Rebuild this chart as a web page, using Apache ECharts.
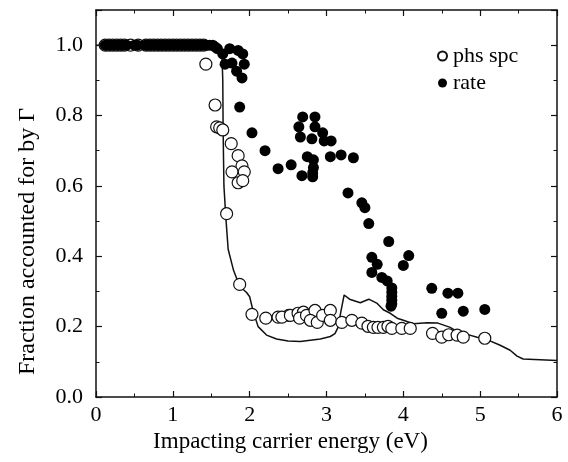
<!DOCTYPE html>
<html>
<head>
<meta charset="utf-8">
<script src="https://cdn.jsdelivr.net/npm/echarts@6/dist/echarts.min.js"></script>
<style>html,body{margin:0;padding:0;background:#fff}#c{width:568px;height:462px}</style>
</head>
<body>
<div id="c"></div>
<script>
// x tick labels
var xTicks = [0, 1, 2, 3, 4, 5, 6];
var yTicks = [0.0, 0.2, 0.4, 0.6, 0.8, 1.0];

// phs spc (open circles): [energy, fraction]
var phsSpc = [
  [0.12,1.0],[0.17,1.0],[0.22,1.0],[0.27,1.0],[0.32,1.0],[0.37,1.0],[0.45,1.0],[0.55,1.0],
  [0.65,1.0],[0.70,1.0],[0.75,1.0],[0.80,1.0],[0.85,1.0],[0.90,1.0],[0.95,1.0],[1.00,1.0],
  [1.05,1.0],[1.10,1.0],[1.15,1.0],[1.20,1.0],[1.25,1.0],[1.30,1.0],[1.35,1.0],[1.40,1.0],
  [1.43,0.946],[1.55,0.83],[1.57,0.768],[1.61,0.765],[1.65,0.759],[1.76,0.72],[1.85,0.686],
  [1.90,0.657],[1.77,0.640],[1.93,0.640],[1.85,0.609],[1.91,0.615],[1.70,0.521],[1.87,0.32],
  [2.03,0.235],[2.21,0.224],[2.37,0.227],[2.51,0.232],[2.42,0.227],[2.53,0.232],[2.63,0.238],
  [2.70,0.241],[2.65,0.224],[2.74,0.232],[2.85,0.246],[2.79,0.218],[2.88,0.212],[2.95,0.232],
  [3.05,0.246],[3.05,0.218],[3.20,0.212],[3.33,0.218],[3.46,0.210],[3.54,0.201],[3.61,0.198],
  [3.67,0.198],[3.74,0.198],[3.80,0.201],[3.85,0.195],[3.98,0.195],[4.09,0.195],[4.38,0.181],
  [4.50,0.170],[4.59,0.177],[4.70,0.176],[4.78,0.170],[5.06,0.167]
];

// rate (filled circles): [energy, fraction]
var rate = [
  [0.12,1.0],[0.16,1.0],[0.20,1.0],[0.24,1.0],[0.28,1.0],[0.32,1.0],[0.36,1.0],[0.40,1.0],
  [0.50,1.0],[0.54,1.0],[0.64,1.0],[0.68,1.0],[0.72,1.0],[0.76,1.0],[0.80,1.0],[0.84,1.0],
  [0.88,1.0],[0.92,1.0],[0.96,1.0],[1.00,1.0],[1.04,1.0],[1.08,1.0],[1.12,1.0],[1.16,1.0],
  [1.20,1.0],[1.24,1.0],[1.28,1.0],[1.32,1.0],[1.36,1.0],[1.40,1.0],[1.44,1.0],[1.48,1.0],
  [1.52,1.0],[1.55,0.995],[1.58,0.99],
  [1.65,0.975],[1.74,0.99],[1.85,0.985],[1.91,0.975],[1.68,0.946],[1.77,0.949],[1.93,0.946],
  [1.83,0.926],[1.90,0.907],[1.87,0.824],[2.03,0.751],[2.20,0.700],[2.37,0.649],[2.54,0.660],
  [2.69,0.796],[2.85,0.796],[2.64,0.768],[2.85,0.768],[2.66,0.739],[2.81,0.734],[2.95,0.751],
  [2.97,0.728],[3.06,0.728],[2.75,0.683],[2.83,0.674],[2.83,0.652],[2.82,0.637],[2.68,0.629],
  [2.82,0.626],[3.05,0.683],[3.19,0.688],[3.35,0.680],[3.28,0.580],[3.46,0.552],[3.50,0.538],
  [3.55,0.493],[3.81,0.442],[4.07,0.402],[4.00,0.374],[3.59,0.397],[3.66,0.377],[3.59,0.354],
  [3.72,0.340],[3.79,0.330],[3.85,0.310],[3.85,0.298],[3.85,0.286],[3.85,0.275],[3.85,0.265],
  [3.84,0.258],[4.37,0.309],[4.58,0.295],[4.71,0.295],[4.50,0.238],[4.78,0.244],[5.06,0.249]
];

// model curve: [energy, fraction]
var curve = [
  [0,1.0],[1.5,1.0],[1.58,0.998],[1.62,0.99],[1.64,0.97],[1.65,0.90],[1.655,0.75],[1.665,0.60],
  [1.69,0.51],[1.72,0.42],[1.79,0.36],[1.85,0.326],[1.92,0.305],[1.96,0.297],[2.0,0.285],
  [2.05,0.24],[2.11,0.20],[2.22,0.176],[2.35,0.165],[2.5,0.159],[2.66,0.158],[2.92,0.165],
  [3.05,0.172],[3.11,0.18],[3.15,0.198],[3.19,0.246],[3.23,0.29],[3.3,0.278],[3.44,0.268],
  [3.55,0.278],[3.66,0.266],[3.74,0.248],[3.83,0.238],[3.92,0.224],[4.0,0.218],[4.13,0.208],
  [4.31,0.211],[4.45,0.21],[4.61,0.198],[4.7,0.186],[4.83,0.178],[4.96,0.17],[5.09,0.163],
  [5.26,0.147],[5.39,0.133],[5.48,0.116],[5.56,0.108],[6.0,0.104]
];

var FONT = "'Liberation Serif','DejaVu Serif',serif";
var chart = echarts.init(document.getElementById('c'), null, {renderer: 'canvas'});

function baseAxis(extra) {
  var a = {
    axisLine: {show: true, onZero: false, lineStyle: {color: '#111', width: 1.5}},
    axisTick: {show: true, inside: true, length: 6, lineStyle: {color: '#111', width: 1.2}},
    minorTick: {show: true, splitNumber: 2, length: 3.5, lineStyle: {color: '#111', width: 1}},
    splitLine: {show: false},
    minorSplitLine: {show: false}
  };
  for (var k in extra) a[k] = extra[k];
  return a;
}

var option = {
  backgroundColor: '#fff',
  animation: false,
  grid: {left: 96, right: 11, top: 10, bottom: 65, containLabel: false},
  legend: {
    orient: 'vertical', left: 432, top: 40, itemGap: 5, itemWidth: 9, itemHeight: 9,
    textStyle: {fontFamily: FONT, fontSize: 22, color: '#000', padding: [0,0,0,1]},
    data: ['phs spc', 'rate']
  },
  xAxis: [
    baseAxis({type: 'value', min: xTicks[0], max: xTicks[xTicks.length-1], interval: 1, position: 'bottom',
      name: 'Impacting carrier energy (eV)', nameLocation: 'middle', nameGap: 30,
      nameTextStyle: {fontFamily: FONT, fontSize: 23, color: '#000', padding: [0, 72, 0, 0]},
      axisLabel: {fontFamily: FONT, fontSize: 22, color: '#000', margin: 7}}),
    baseAxis({type: 'value', min: 0, max: 6, interval: 1, position: 'top', axisLabel: {show: false}})
  ],
  yAxis: [
    baseAxis({type: 'value', min: 0, max: 1.1, interval: 0.2, position: 'left',
      name: 'Fraction accounted for by Γ', nameLocation: 'middle', nameGap: 56,
      nameTextStyle: {fontFamily: FONT, fontSize: 24, color: '#000', padding: [0, 76, 0, 0]},
      axisLabel: {fontFamily: FONT, fontSize: 22, color: '#000', margin: 13, showMaxLabel: false,
        formatter: function (v) { return yTicks.indexOf(Math.round(v*10)/10) >= 0 ? v.toFixed(1) : ''; }}}),
    baseAxis({type: 'value', min: 0, max: 1.1, interval: 0.2, position: 'right', axisLabel: {show: false}})
  ],
  series: [
    {
      name: 'curve', type: 'line', data: curve, showSymbol: false, symbol: 'none',
      lineStyle: {color: '#111', width: 1.5}, z: 3, silent: true
    },
    {
      name: 'phs spc', type: 'scatter', data: phsSpc, symbol: 'circle', symbolSize: 12,
      itemStyle: {color: '#fff', borderColor: '#111', borderWidth: 1.2, opacity: 1}, z: 4
    },
    {
      name: 'rate', type: 'scatter', data: rate, symbol: 'circle', symbolSize: 11,
      itemStyle: {color: '#000', borderColor: '#000', borderWidth: 0, opacity: 1}, z: 5
    }
  ]
};
chart.setOption(option);
</script>
</body>
</html>
